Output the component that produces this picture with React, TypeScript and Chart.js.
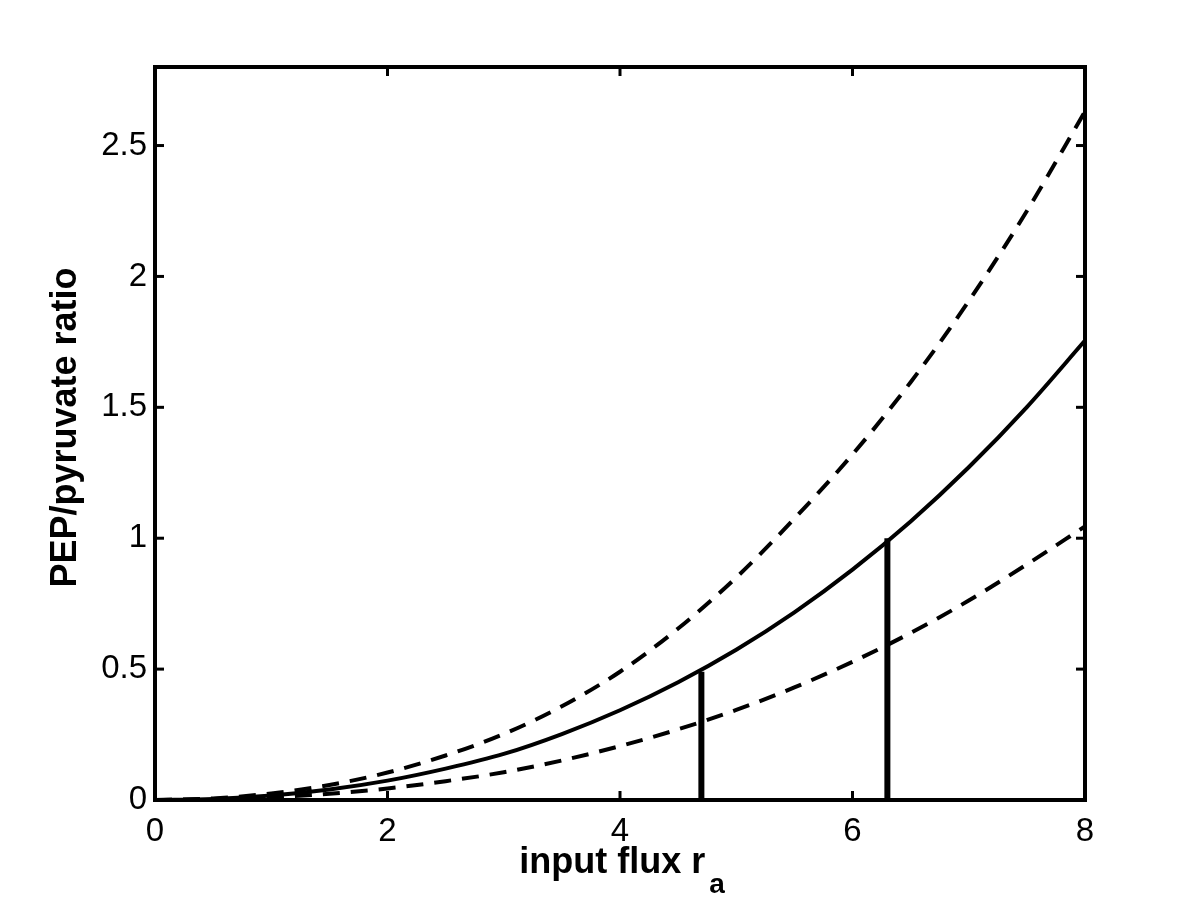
import { useEffect, useRef } from 'react';
import { Chart, registerables } from 'chart.js';

Chart.register(...registerables);

// ---- data ----
const xValues = [0, 0.5, 1, 1.5, 2, 2.5, 3, 3.5, 4, 4.5, 5, 5.5, 6, 6.5, 7, 7.5, 8];
const middleRatio = [0, 0.004, 0.017, 0.04, 0.074, 0.12, 0.176, 0.252, 0.343, 0.45, 0.574, 0.717, 0.88, 1.064, 1.271, 1.501, 1.755];
const upperRatio = [0, 0.006, 0.025, 0.057, 0.105, 0.17, 0.252, 0.358, 0.49, 0.655, 0.85, 1.075, 1.32, 1.596, 1.906, 2.25, 2.63];
const lowerRatio = [0, 0.0025, 0.01, 0.024, 0.044, 0.072, 0.106, 0.151, 0.206, 0.27, 0.344, 0.43, 0.528, 0.638, 0.762, 0.9, 1.045];
const markerX = [4.7, 6.3];
const markerTop = [0.49, 1.0];
const xTicks = [0, 2, 4, 6, 8];
const yTicks = [0, 0.5, 1, 1.5, 2, 2.5];
const xTitle = 'input flux r';
const xTitleSub = 'a';
const yTitle = 'PEP/pyruvate ratio';

const FONT = '"Liberation Sans", Arial, Helvetica, sans-serif';

const framePlugin = {
  id: 'frameTicksTitles',
  afterDatasetsDraw(chart: any) {
    const { ctx, chartArea: a, scales } = chart;
    ctx.save();
    ctx.strokeStyle = '#000';
    ctx.lineCap = 'butt';
    ctx.lineWidth = 3;
    const tl = 9;
    const seg = (x1: number, y1: number, x2: number, y2: number) => {
      ctx.beginPath();
      ctx.moveTo(x1, y1);
      ctx.lineTo(x2, y2);
      ctx.stroke();
    };
    for (const t of scales.x.ticks) {
      const px = scales.x.getPixelForValue(t.value);
      seg(px, a.bottom, px, a.bottom - tl);
      seg(px, a.top, px, a.top + tl);
    }
    for (const t of scales.y.ticks) {
      const py = scales.y.getPixelForValue(t.value);
      seg(a.left, py, a.left + tl, py);
      seg(a.right, py, a.right - tl, py);
    }
    ctx.lineWidth = 4;
    ctx.lineJoin = 'miter';
    ctx.strokeRect(a.left, a.top, a.right - a.left, a.bottom - a.top);
    ctx.restore();
  },
  afterDraw(chart: any) {
    const { ctx, chartArea: a } = chart;
    ctx.save();
    ctx.fillStyle = '#000';
    // x title with subscript
    const mainFont = `bold 36px ${FONT}`;
    const subFont = `bold 28px ${FONT}`;
    ctx.font = mainFont;
    const w1 = ctx.measureText(xTitle).width;
    ctx.font = subFont;
    const w2 = ctx.measureText(xTitleSub).width;
    const gap = 4;
    const cx = (a.left + a.right) / 2 + 2;
    const startX = cx - (w1 + gap + w2) / 2;
    ctx.textAlign = 'left';
    ctx.textBaseline = 'alphabetic';
    ctx.font = mainFont;
    ctx.fillText(xTitle, startX, 873);
    ctx.font = subFont;
    ctx.fillText(xTitleSub, startX + w1 + gap, 893);
    // y title
    ctx.translate(66, (a.top + a.bottom) / 2 - 6);
    ctx.rotate(-Math.PI / 2);
    ctx.font = mainFont;
    ctx.textAlign = 'center';
    ctx.textBaseline = 'middle';
    ctx.fillText(yTitle, 0, 0);
    ctx.restore();
  },
};

export default function App() {
  const ref = useRef<HTMLCanvasElement | null>(null);

  useEffect(() => {
    if (!ref.current) return;
    const toPts = (ys: number[]) => xValues.map((x, i) => ({ x, y: ys[i] }));
    const markerSets = markerX.map((x, i) => ({
      label: `marker ${i + 1}`,
      data: [
        { x, y: 0 },
        { x, y: markerTop[i] },
      ],
      borderColor: '#000',
      borderWidth: 6,
      pointRadius: 0,
      fill: false,
      borderCapStyle: 'butt' as const,
    }));
    const chart = new Chart(ref.current, {
      type: 'line',
      data: {
        datasets: [
          {
            label: 'upper',
            data: toPts(upperRatio),
            borderColor: '#000',
            borderWidth: 4,
            borderDash: [17, 11],
            pointRadius: 0,
            cubicInterpolationMode: 'monotone',
            fill: false,
          },
          {
            label: 'middle',
            data: toPts(middleRatio),
            borderColor: '#000',
            borderWidth: 4,
            pointRadius: 0,
            cubicInterpolationMode: 'monotone',
            fill: false,
          },
          {
            label: 'lower',
            data: toPts(lowerRatio),
            borderColor: '#000',
            borderWidth: 4,
            borderDash: [17, 11],
            pointRadius: 0,
            cubicInterpolationMode: 'monotone',
            fill: false,
          },
          ...markerSets,
        ],
      },
      options: {
        responsive: false,
        animation: false,
        events: [],
        layout: { padding: { left: 0, top: 67, right: 115, bottom: 0 } },
        plugins: {
          legend: { display: false },
          tooltip: { enabled: false },
          title: { display: false },
        },
        scales: {
          x: {
            type: 'linear',
            min: 0,
            max: 8,
            afterBuildTicks: (s: any) => {
              s.ticks = xTicks.map((v) => ({ value: v }));
            },
            afterFit: (s: any) => {
              s.height = 103;
            },
            grid: { display: false, drawTicks: false },
            border: { display: false },
            ticks: {
              color: '#000',
              font: { family: FONT, size: 33 },
              padding: 12,
              maxRotation: 0,
              autoSkip: false,
              callback: (v: any) => String(v),
            },
          },
          y: {
            type: 'linear',
            min: 0,
            max: 2.8,
            afterBuildTicks: (s: any) => {
              s.ticks = yTicks.map((v) => ({ value: v }));
            },
            afterFit: (s: any) => {
              s.width = 155;
            },
            grid: { display: false, drawTicks: false },
            border: { display: false },
            ticks: {
              color: '#000',
              font: { family: FONT, size: 33 },
              padding: 8,
              autoSkip: false,
              callback: (v: any) => String(v),
            },
          },
        },
      },
      plugins: [framePlugin],
    });
    return () => chart.destroy();
  }, []);

  return (
    <div style={{ position: 'fixed', left: 0, top: 0, width: 1200, height: 903, background: '#fff' }}>
      <canvas ref={ref} width={1200} height={903} style={{ display: 'block' }} />
    </div>
  );
}
